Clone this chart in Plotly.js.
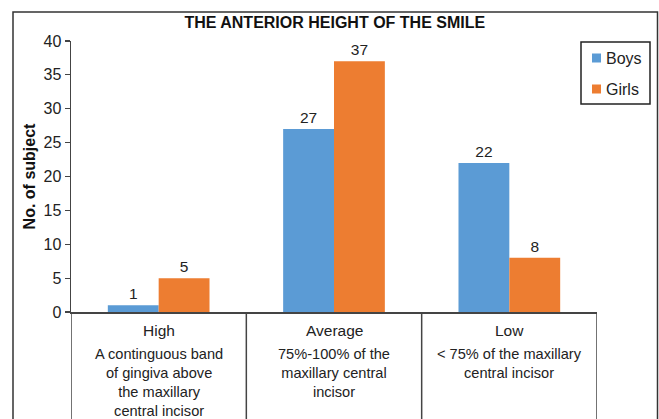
<!DOCTYPE html>
<html>
<head>
<meta charset="utf-8">
<script src="https://cdn.plot.ly/plotly-3.0.1.min.js"></script>
<style>html,body{margin:0;padding:0;background:#fff;}#chart{width:659px;height:419px;}</style>
</head>
<body>
<div id="chart"></div>
<script>
var categories = ["High", "Average", "Low"];
var descriptions = [
  "A continguous band<br>of gingiva above<br>the maxillary<br>central incisor",
  "75%-100% of the<br>maxillary central<br>incisor",
  "< 75% of the maxillary<br>central incisor"
];
var boys = [1, 27, 22];
var girls = [5, 37, 8];
var seriesNames = ["Boys", "Girls"];
var seriesColors = ["#5b9bd5", "#ed7d31"];
var yTicks = [0, 5, 10, 15, 20, 25, 30, 35, 40];

var FONT = "Liberation Sans, Arial, sans-serif";
var FS = 15.5;
var traces = [
  {type: "bar", name: seriesNames[0], x: categories, y: boys, marker: {color: seriesColors[0]},
   text: boys.map(String), textposition: "outside", cliponaxis: false,
   textfont: {size: FS, color: "#222", family: FONT}},
  {type: "bar", name: seriesNames[1], x: categories, y: girls, marker: {color: seriesColors[1]},
   text: girls.map(String), textposition: "outside", cliponaxis: false,
   textfont: {size: FS, color: "#222", family: FONT}}
];

// pixel helpers relative to plot area (l=71, plot width 526, top 41, height 271)
function px(x) { return (x - 71) / 526; }
function py(y) { return (312 - y) / 271; }

var annotations = [];
categories.forEach(function (c, i) {
  annotations.push({x: c, xref: "x", y: -0.028, yref: "paper", yanchor: "top", text: c,
    showarrow: false, font: {size: FS, color: "#222", family: FONT}});
  annotations.push({x: c, xref: "x", y: py(344), yref: "paper", yanchor: "top", text: descriptions[i],
    showarrow: false, align: "center", font: {size: 14.6, color: "#222", family: FONT}});
});

var shapes = [
  {type: "rect", xref: "paper", yref: "paper", x0: px(13), x1: px(657.5), y0: py(440), y1: py(12),
   line: {color: "#333", width: 1.5}, fillcolor: "rgba(0,0,0,0)"}
];
[-0.5, 0.5, 1.5, 2.5].forEach(function (xv) {
  shapes.push({type: "line", xref: "x", yref: "paper", x0: xv, x1: xv, y0: 0, y1: py(440),
    line: {color: "#444", width: 1.5}});
});

// manual legend
shapes.push({type: "rect", xref: "paper", yref: "paper", x0: px(581), x1: px(650), y0: py(104), y1: py(42),
  line: {color: "#222", width: 1.5}, fillcolor: "#fff"});
var legendY = [58, 89];
seriesNames.forEach(function (n, i) {
  shapes.push({type: "rect", xref: "paper", yref: "paper", x0: px(592), x1: px(601),
    y0: py(legendY[i] + 4.5), y1: py(legendY[i] - 4.5), line: {width: 0}, fillcolor: seriesColors[i]});
  annotations.push({xref: "paper", yref: "paper", x: px(604), y: py(legendY[i]), xanchor: "left",
    yanchor: "middle", text: n, showarrow: false, font: {size: 16, color: "#222", family: FONT}});
});

var layout = {
  width: 659, height: 419,
  margin: {l: 71, r: 62, t: 41, b: 107},
  paper_bgcolor: "#fff", plot_bgcolor: "#fff",
  font: {family: FONT, color: "#222", size: FS},
  title: {text: "<b>THE ANTERIOR HEIGHT OF THE SMILE</b>", x: 0.508, xanchor: "center",
    y: 0.947, yanchor: "middle", font: {size: 16, color: "#111", family: FONT}},
  barmode: "group", bargap: 0.42, bargroupgap: 0,
  xaxis: {type: "category", range: [-0.5, 2.5], showticklabels: false, ticks: "",
    showline: true, linecolor: "#444", linewidth: 1.5, showgrid: false, zeroline: false, fixedrange: true},
  yaxis: {range: [0, 40], tickvals: yTicks, ticktext: yTicks.map(String), ticks: "outside",
    ticklen: 5, tickcolor: "#444", tickwidth: 1.2, showline: true, linecolor: "#444", linewidth: 1.5,
    showgrid: false, zeroline: false, tickfont: {size: 16, color: "#222", family: FONT},
    title: {text: "<b>No. of subject</b>", standoff: 4, font: {size: 16, color: "#111", family: FONT}}},
  showlegend: false,
  annotations: annotations,
  shapes: shapes
};

Plotly.newPlot("chart", traces, layout, {displayModeBar: false, staticPlot: true});
</script>
</body>
</html>
